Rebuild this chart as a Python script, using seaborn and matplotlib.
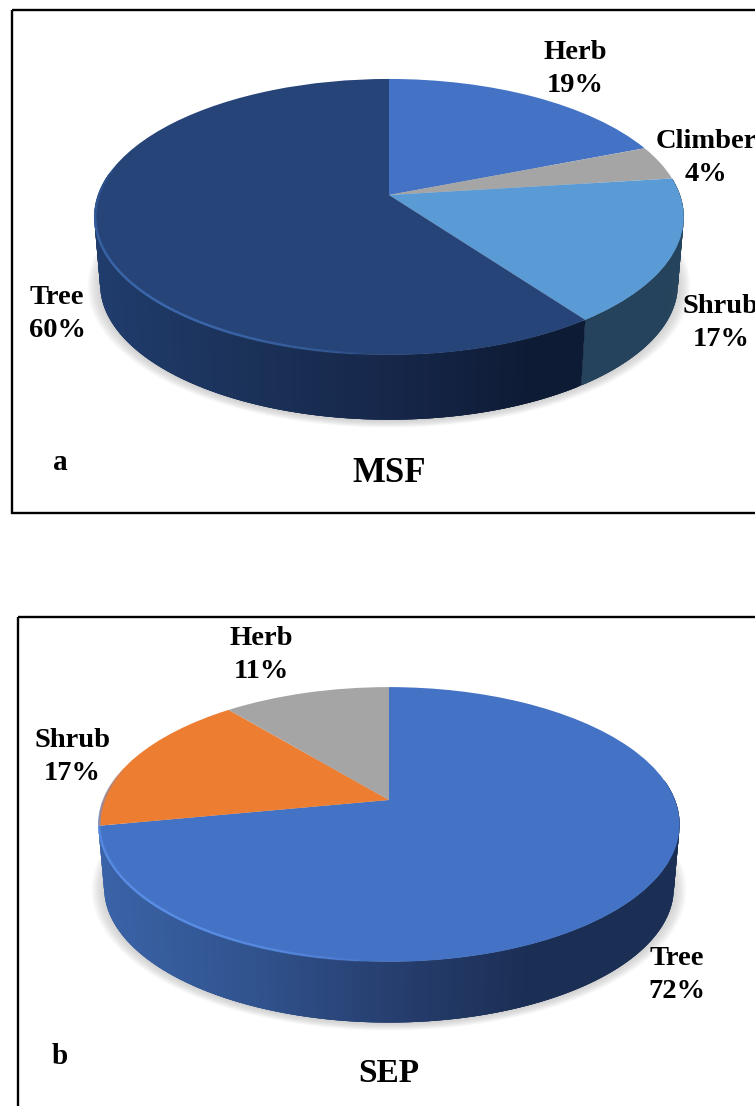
import numpy as np
import matplotlib
matplotlib.use("Agg")
import matplotlib.pyplot as plt
import seaborn as sns
from matplotlib.transforms import Transform
from matplotlib.collections import PolyCollection, LineCollection
from matplotlib.patches import Rectangle

sns.set_theme(style="white")
plt.rcParams['font.family'] = ['Liberation Serif', 'DejaVu Serif']

# ---- data ----
msf_names = ["Herb", "Climber", "Shrub", "Tree"]
msf_values = [19, 4, 17, 60]
sep_names = ["Tree", "Shrub", "Herb"]
sep_values = [72, 17, 11]

msf_colors = ["#4472C4", "#A5A5A5", "#5B9BD5", "#264478"]
sep_colors = ["#4472C4", "#ED7D31", "#A5A5A5"]

msf_side = {"Tree": ["#203C6C", "#1B3259", "#16274A", "#0E1B35", "#0E1B35"],
            "Shrub": ["#25435C", "#25435C"]}
sep_side = {"Tree": ["#3A62A6", "#31548F", "#273F70", "#1B2F55", "#1B2F55"]}


class Persp(Transform):
    """Tilted-disc projection from pie units to pixel positions."""
    input_dims = 2
    output_dims = 2
    is_separable = False
    has_inverse = False

    def __init__(self, cx, cy, b, a, k):
        super().__init__()
        self.cx, self.cy, self.b, self.a, self.k = cx, cy, b, a, k

    def transform_non_affine(self, values):
        v = np.asarray(values, float)
        d = 1 + self.k * v[:, 1]
        return np.column_stack([self.cx + self.b * v[:, 0] / d,
                                self.cy - self.a * v[:, 1] / d])


fig = plt.figure(figsize=(7.55, 11.06), dpi=100, facecolor="white")
ax = fig.add_axes([0, 0, 1, 1])


def draw_pie(values, names, colors, side, geom, rim_color):
    cx, cy, b, a, k, dy, s = geom
    top = Persp(cx, cy, b, a, k)
    bot = Persp(cx, cy + dy, b * s, a * s, k)

    # soft shadow under the disc
    phi = np.linspace(0, 2 * np.pi, 361)
    unit = np.column_stack([np.sin(phi), np.cos(phi)])
    for g in np.linspace(1.045, 1.0, 18):
        poly = Persp(cx, cy + dy + 1, b * s * g, a * s * g, k).transform_non_affine(unit)
        ax.fill(poly[:, 0], poly[:, 1], color="#666666", alpha=0.014, lw=0, zorder=1)

    # side wall, shaded left to right; each quad overlaps the next to avoid seams
    left, right = cx - b, cx + b
    edges = np.concatenate([[0], np.cumsum(values)]) / np.sum(values) * 2 * np.pi
    quads, fcs = [], []
    for i, name in enumerate(names):
        if name not in side:
            continue
        pal = sns.blend_palette(side[name], 200)
        th = np.linspace(edges[i], edges[i + 1], 400)
        u = np.column_stack([np.sin(th), np.cos(th)])
        p_t, p_b = top.transform_non_affine(u), bot.transform_non_affine(u)
        last = len(th) - 1
        for j in range(last):
            if u[j, 1] > 0.15 and u[j + 1, 1] > 0.15:
                continue
            e = min(j + 3, last)
            quads.append([p_t[j], p_t[e], p_b[e], p_b[j]])
            t = (p_t[j, 0] - left) / (right - left)
            fcs.append(pal[int(np.clip(t, 0, 0.999) * 200)])
    ax.add_collection(PolyCollection(quads, facecolors=fcs, edgecolors="none",
                                     linewidths=0, zorder=2))

    # top face
    wedges, _ = ax.pie(values, colors=colors, startangle=90, counterclock=False,
                       radius=1.0, wedgeprops=dict(linewidth=0))
    for w in wedges:
        w.set_transform(top + ax.transData)
        w.set_zorder(3)

    # light rim along the front-left edge
    th = np.linspace(np.pi * 1.02, np.pi * 1.58, 160)
    u = np.column_stack([np.sin(th), np.cos(th)]) * 0.997
    p = top.transform_non_affine(u)
    segs = [[p[j], p[j + 1]] for j in range(len(p) - 1)]
    alph = np.sin(np.linspace(0, 1, len(segs)) ** 0.8 * np.pi) ** 0.7
    rgba = [matplotlib.colors.to_rgba(rim_color, float(v)) for v in alph]
    ax.add_collection(LineCollection(segs, colors=rgba, linewidths=1.8, zorder=4))


draw_pie(msf_values, msf_names, msf_colors, msf_side,
         (389, 195, 291, 134.5, 0.159, 68, 0.98), "#3C69AE")
draw_pie(sep_values, sep_names, sep_colors, sep_side,
         (389, 800, 286, 133, 0.178, 64, 0.98), "#5A8FE8")

# panel frames (run off the canvas on the cropped sides)
ax.add_patch(Rectangle((12, 10), 800, 503, fill=False, ec="black", lw=1.7, zorder=6))
ax.add_patch(Rectangle((18, 617), 800, 600, fill=False, ec="black", lw=1.7, zorder=6))

ax.set_aspect("auto")
ax.set_xlim(0, 755)
ax.set_ylim(1106, 0)
ax.axis("off")

LABEL = dict(ha="center", va="center", fontweight="bold", color="black",
             fontsize=20.5, linespacing=1.4, zorder=7)


def labels(names, values, positions):
    for n, v, (x, y) in zip(names, values, positions):
        ax.text(x, y, f"{n}\n{v}%", **LABEL)


labels(msf_names, msf_values, [(575, 69), (706, 158), (721, 323), (57, 314)])
labels(sep_names, sep_values, [(677, 975), (72, 757), (261, 655)])

ax.text(60, 463, "a", ha="center", va="center", fontweight="bold", fontsize=21, color="black", zorder=7)
ax.text(60, 1056, "b", ha="center", va="center", fontweight="bold", fontsize=21, color="black", zorder=7)
ax.text(389, 474, "MSF", ha="center", va="center", fontweight="bold", fontsize=25, color="black", zorder=7)
ax.text(389, 1073, "SEP", ha="center", va="center", fontweight="bold", fontsize=24, color="black", zorder=7)

fig.savefig("out.png", dpi=100, facecolor="white")
